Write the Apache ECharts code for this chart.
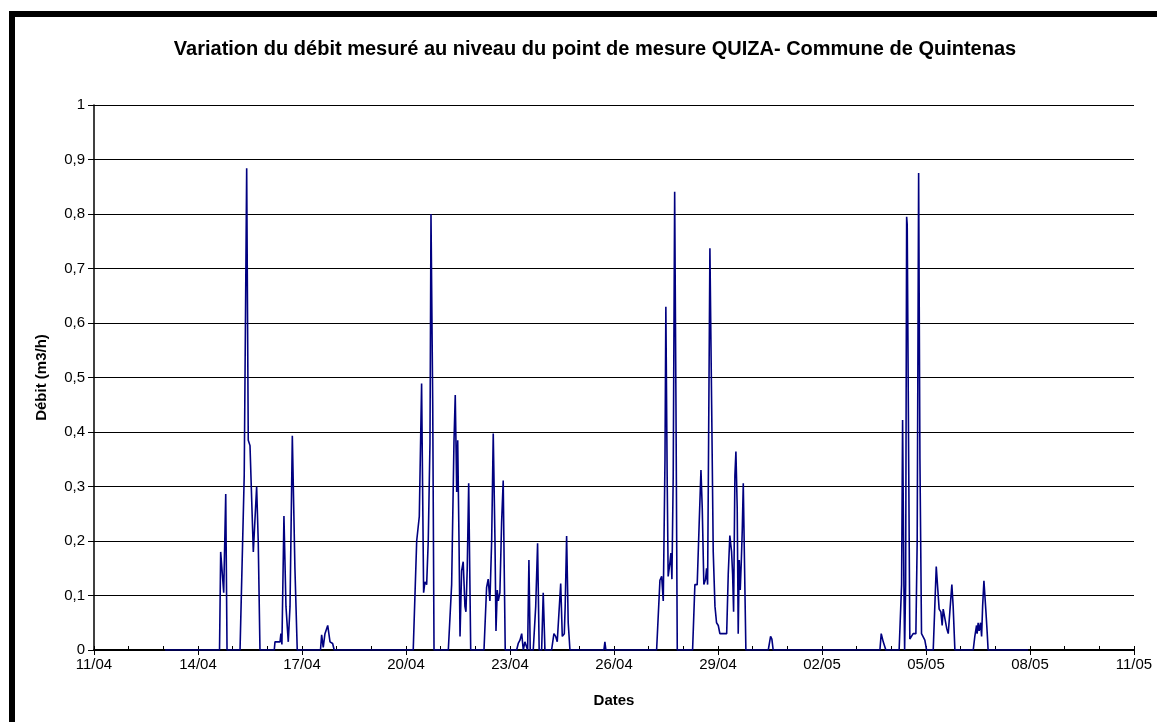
<!DOCTYPE html>
<html>
<head>
<meta charset="utf-8">
<script src="https://cdn.jsdelivr.net/npm/echarts@6/dist/echarts.min.js"></script>
<style>
html,body{margin:0;padding:0;background:#fff;}
#c{width:1157px;height:722px;}
</style>
</head>
<body>
<div id="c"></div>
<script>
// hours since 11/04 00:00
const hours = [
49.2,
86.9, 87.7, 89.8, 91.2, 92.1,
101.1, 104.0, 105.7, 106.8, 108.0, 110.3, 112.6, 113.7, 114.9,
124.8, 125.3, 128.8, 129.4, 130.1, 131.5, 132.9, 134.5, 135.7, 137.3, 139.1, 140.7,
156.8, 157.6, 158.7, 159.9, 161.8, 163.4, 165.2, 166.3,
221.0, 223.4, 225.2, 226.8, 228.2, 229.1, 230.3, 231.4, 232.6, 233.3, 234.5, 235.4,
245.3, 247.6, 249.2, 250.1, 251.1, 251.8, 252.7, 253.4, 254.5, 255.6, 256.8, 257.5, 258.4, 259.4, 260.8,
270.0, 271.8, 272.9, 274.1, 275.3, 276.4, 277.6, 278.3, 279.2, 279.9, 281.0, 282.2, 283.3, 284.0, 284.7,
292.6, 293.7, 294.9, 296.1, 297.2, 298.3, 299.5, 300.2, 301.1, 302.0, 304.1, 305.8, 307.1, 308.2, 309.9, 311.0, 312.2, 316.8, 318.4, 319.6, 320.7, 321.9, 323.1, 324.2, 325.6, 326.2, 327.2, 328.3, 329.5,
353.0, 353.7, 354.4,
389.5, 391.8, 393.0, 394.1, 395.3, 395.9, 396.8, 397.5, 398.7, 399.4, 400.1, 401.0, 402.0, 402.9, 403.8,
414.4, 416.0, 417.6, 419.0, 420.2, 421.1, 422.2, 423.4, 424.1, 424.8, 425.5, 426.4, 427.6, 428.7, 429.9, 431.0, 432.2, 433.3, 438.0, 439.1, 440.2, 441.4, 442.1, 442.8, 443.7, 444.4, 445.3, 446.0, 446.7, 447.4, 448.1, 448.8, 449.5, 450.4, 451.3,
466.8, 468.4, 469.3, 470.2,
544.1, 545.0, 546.4, 548.2,
557.4, 559.1, 559.8, 560.7, 561.2, 561.9, 562.6, 563.0, 564.0, 564.8, 566.0, 567.1, 569.0, 569.9, 570.9, 571.8, 572.9, 574.1, 575.2, 576.4,
581.0, 582.1, 583.1, 584.2, 585.1, 586.3, 587.2, 587.9, 589.1, 590.3, 591.4, 592.5, 593.9, 594.8, 596.0,
608.7, 609.8, 611.0, 611.4, 612.1, 612.8, 613.8, 614.5, 615.2, 616.1, 617.5, 618.4, 619.0,
646.7
];
// débit (m3/h)
const debit = [
0,
0, 0.18, 0.105, 0.286, 0,
0, 0.32, 0.884, 0.385, 0.375, 0.18, 0.30, 0.2, 0,
0, 0.015, 0.015, 0.03, 0.01, 0.246, 0.08, 0.015, 0.08, 0.393, 0.15, 0,
0, 0.028, 0.005, 0.03, 0.045, 0.015, 0.012, 0,
0, 0.2, 0.245, 0.489, 0.105, 0.125, 0.12, 0.2, 0.38, 0.80, 0.45, 0,
0, 0.12, 0.38, 0.468, 0.29, 0.385, 0.2, 0.025, 0.145, 0.162, 0.08, 0.07, 0.15, 0.306, 0,
0, 0.115, 0.13, 0.09, 0.2, 0.397, 0.2, 0.035, 0.11, 0.09, 0.105, 0.235, 0.311, 0.15, 0,
0, 0.012, 0.018, 0.03, 0, 0.015, 0.012, 0, 0.165, 0, 0, 0.08, 0.196, 0, 0, 0.105, 0, 0, 0.03, 0.025, 0.015, 0.018, 0.122, 0.025, 0.03, 0.08, 0.209, 0.05, 0,
0, 0.015, 0,
0, 0.128, 0.135, 0.09, 0.35, 0.63, 0.32, 0.135, 0.16, 0.178, 0.13, 0.32, 0.841, 0.45, 0,
0, 0.12, 0.12, 0.235, 0.33, 0.26, 0.12, 0.13, 0.15, 0.12, 0.385, 0.737, 0.45, 0.18, 0.08, 0.05, 0.045, 0.03, 0.03, 0.14, 0.21, 0.18, 0.14, 0.07, 0.32, 0.364, 0.26, 0.03, 0.165, 0.11, 0.16, 0.22, 0.306, 0.15, 0,
0, 0.025, 0.02, 0,
0, 0.03, 0.015, 0,
0, 0.12, 0.422, 0.12, 0, 0.12, 0.795, 0.78, 0.35, 0.02, 0.02, 0.03, 0.03, 0.2, 0.875, 0.35, 0.03, 0.03, 0.018, 0,
0, 0.08, 0.153, 0.11, 0.075, 0.07, 0.045, 0.075, 0.075, 0.04, 0.03, 0.07, 0.12, 0.08, 0,
0, 0.025, 0.045, 0.03, 0.05, 0.035, 0.05, 0.025, 0.08, 0.127, 0.07, 0.03, 0,
0
];
// x tick labels, every 3 days from 11/04
const dateLabels = ['11/04','14/04','17/04','20/04','23/04','26/04','29/04','02/05','05/05','08/05','11/05'];

const points = hours.map((h, i) => [h / 24, debit[i]]);
const FONT = '"Liberation Sans", Arial, sans-serif';

const chart = echarts.init(document.getElementById('c'), null, {renderer: 'canvas'});
chart.setOption({
  animation: false,
  backgroundColor: '#fff',
  title: {
    text: 'Variation du débit mesuré au niveau du point de mesure QUIZA- Commune de Quintenas',
    left: 590, top: 34, textAlign: 'center',
    textStyle: {fontFamily: FONT, fontSize: 20, fontWeight: 'bold', color: '#000'}
  },
  graphic: [
    {type: 'rect', shape: {x: 9, y: 11, width: 6, height: 711}, style: {fill: '#000'}, silent: true},
    {type: 'rect', shape: {x: 9, y: 11, width: 1148, height: 6}, style: {fill: '#000'}, silent: true}
  ],
  grid: {left: 94, right: 23, top: 105, bottom: 72, containLabel: false},
  xAxis: [
    {
      type: 'value', min: 0, max: 30, interval: 3,
      name: 'Dates', nameLocation: 'middle', nameGap: 43,
      nameTextStyle: {fontFamily: FONT, fontSize: 15, fontWeight: 'bold', color: '#000'},
      axisLine: {show: true, onZero: false, lineStyle: {color: '#000', width: 2}},
      axisTick: {show: true, inside: false, length: 5, lineStyle: {color: '#000', width: 1}},
      axisLabel: {
        fontFamily: FONT, fontSize: 15, color: '#000', margin: 7,
        formatter: v => dateLabels[Math.round(v / 3)] || ''
      },
      splitLine: {show: false}
    },
    {
      type: 'value', min: 0, max: 30, interval: 1, position: 'bottom',
      axisLine: {show: false},
      axisTick: {show: true, inside: true, length: 4, lineStyle: {color: '#000', width: 1}},
      axisLabel: {show: false},
      splitLine: {show: false}
    }
  ],
  yAxis: {
    type: 'value', min: 0, max: 1, interval: 0.1,
    name: 'Débit (m3/h)', nameLocation: 'middle', nameGap: 45,
    nameTextStyle: {fontFamily: FONT, fontSize: 15, fontWeight: 'bold', color: '#000'},
    axisLine: {show: true, lineStyle: {color: '#000', width: 1.5}},
    axisTick: {show: true, inside: false, length: 6, lineStyle: {color: '#000', width: 1}},
    axisLabel: {
      fontFamily: FONT, fontSize: 15, color: '#000', margin: 9,
      formatter: v => String(Math.round(v * 10) / 10).replace('.', ',')
    },
    splitLine: {show: true, lineStyle: {color: '#000', width: 1}}
  },
  series: [{
    type: 'line', xAxisIndex: 0, data: points, showSymbol: false, symbol: 'none',
    lineStyle: {color: '#000080', width: 1.6}, z: 5
  }]
});
</script>
</body>
</html>
